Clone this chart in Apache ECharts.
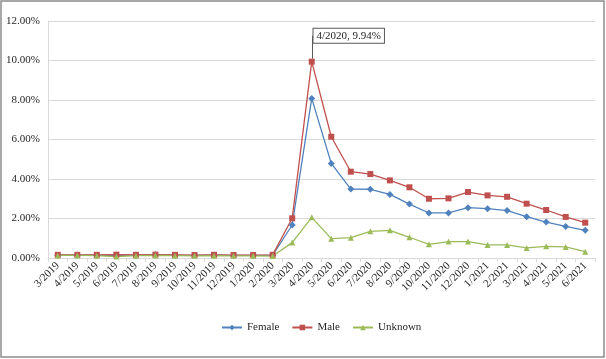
<!DOCTYPE html>
<html>
<head>
<meta charset="utf-8">
<script src="https://cdn.jsdelivr.net/npm/echarts@6/dist/echarts.min.js"></script>
<style>
  html, body { margin: 0; padding: 0; background: #fff; }
  #chart { width: 606px; height: 359px; }
</style>
</head>
<body>
<div id="chart"></div>
<script>
// months, 3/2019 .. 6/2021
var months = ['3/2019','4/2019','5/2019','6/2019','7/2019','8/2019','9/2019','10/2019','11/2019','12/2019','1/2020','2/2020',
  '3/2020','4/2020','5/2020','6/2020','7/2020','8/2020','9/2020','10/2020','11/2020','12/2020',
  '1/2021','2/2021','3/2021','4/2021','5/2021','6/2021'];

// percent values
var female = [0.14,0.15,0.14,0.13,0.15,0.16,0.14,0.13,0.15,0.13,0.13,0.14,
  1.67,8.08,4.79,3.49,3.48,3.22,2.73,2.28,2.28,2.55,2.50,2.40,2.09,1.82,1.60,1.40];
var male = [0.16,0.16,0.16,0.17,0.16,0.17,0.16,0.15,0.16,0.15,0.15,0.16,
  2.01,9.94,6.14,4.37,4.25,3.93,3.58,3.00,3.02,3.34,3.17,3.10,2.75,2.43,2.08,1.79];
var unknown = [0.13,0.13,0.12,0.07,0.12,0.13,0.12,0.11,0.12,0.11,0.11,0.10,
  0.78,2.06,0.98,1.03,1.35,1.40,1.05,0.69,0.83,0.83,0.66,0.66,0.51,0.59,0.56,0.32];

var yTicks = [0, 2, 4, 6, 8, 10, 12];
var peakIdx = 13; // 4/2020, labelled on the Male line

var font = 'Liberation Serif';
var chart = echarts.init(document.getElementById('chart'));

var maleData = male.map(function (v, i) {
  if (i !== peakIdx) return v;
  return {
    value: v,
    label: {
      show: true,
      position: 'top',
      formatter: months[i] + ', ' + v.toFixed(2) + '%',
      fontFamily: font,
      fontSize: 11,
      color: '#262626',
      backgroundColor: '#fff',
      borderColor: '#595959',
      borderWidth: 1,
      padding: [2, 3, 1, 3]
    }
  };
});

function lineSeries(name, data, color, symbol, size) {
  return {
    name: name,
    type: 'line',
    data: data,
    symbol: symbol,
    symbolSize: size,
    showSymbol: true,
    lineStyle: { color: color, width: 1.3 },
    itemStyle: { color: color },
    emphasis: { disabled: true },
    animation: false
  };
}

var s2 = lineSeries('Male', maleData, '#c0504d', 'rect', 6);
s2.labelLine = { show: true, lineStyle: { color: '#595959', width: 1 } };
s2.labelLayout = function (p) {
  if (p.dataIndex === peakIdx) return { dx: 37, dy: -11 };
};

chart.setOption({
  backgroundColor: '#fff',
  animation: false,
  textStyle: { fontFamily: font },
  grid: { left: 48, right: 11, top: 21, bottom: 101, containLabel: false },
  legend: {
    bottom: 21,
    left: 216,
    itemWidth: 20,
    itemHeight: 7,
    itemGap: 12,
    textStyle: { fontFamily: font, fontSize: 11, color: '#262626' },
    data: ['Female', 'Male', 'Unknown']
  },
  xAxis: {
    type: 'category',
    data: months,
    boundaryGap: true,
    axisLine: { lineStyle: { color: '#d9d9d9' } },
    axisTick: { show: true, length: 4, lineStyle: { color: '#d9d9d9' } },
    axisLabel: { rotate: 45, interval: 0, fontFamily: font, fontSize: 11, color: '#262626', margin: 6 }
  },
  yAxis: {
    type: 'value',
    min: yTicks[0],
    max: yTicks[yTicks.length - 1],
    interval: 2,
    axisLine: { show: true, lineStyle: { color: '#d9d9d9' } },
    axisTick: { show: false },
    splitLine: { lineStyle: { color: '#d9d9d9' } },
    axisLabel: {
      fontFamily: font, fontSize: 11, color: '#262626', margin: 8,
      formatter: function (v) { return v.toFixed(2) + '%'; }
    }
  },
  graphic: [{
    type: 'rect',
    shape: { x: 1, y: 1, width: 603, height: 356 },
    style: { fill: null, stroke: '#8c8c8c', lineWidth: 1.5 },
    silent: true
  }],
  series: [
    lineSeries('Female', female, '#4f81bd', 'diamond', 7),
    s2,
    lineSeries('Unknown', unknown, '#9bbb59', 'triangle', 6)
  ]
});
</script>
</body>
</html>
